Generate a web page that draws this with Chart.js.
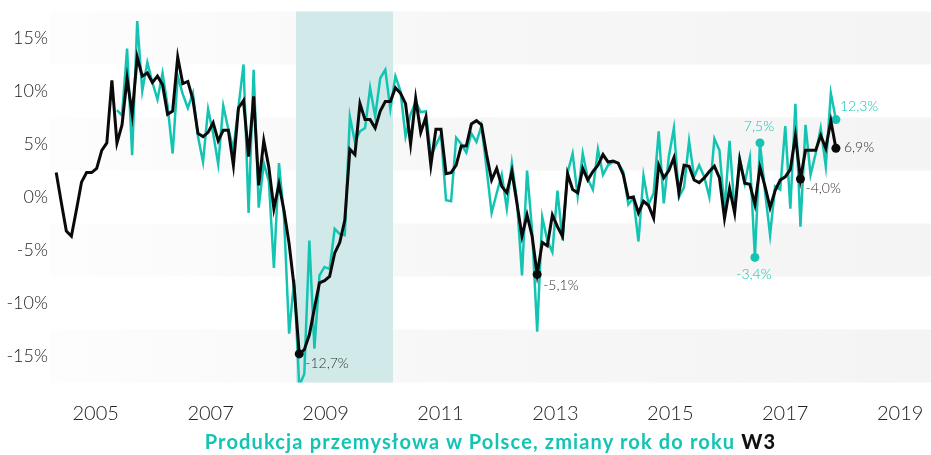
<!DOCTYPE html>
<html>
<head>
<meta charset="utf-8">
<script src="https://cdn.jsdelivr.net/npm/chart.js@4.4.1/dist/chart.umd.min.js"></script>
<style>
  html, body { margin: 0; padding: 0; background: #ffffff; }
  #wrap { position: relative; width: 931px; height: 455px; overflow: hidden; }
  #title { position: absolute; left: 50px; width: 881px; top: 429px; text-align: center;
           font-family: Lato, "Open Sans", sans-serif; font-weight: 700; font-size: 20px;
           letter-spacing: 1.15px; color: #14c4b2; white-space: nowrap; }
  #title span { color: #111111; font-weight: 900; }
</style>
</head>
<body>
<div id="wrap">
  <canvas id="c" width="931" height="455"></canvas>
  <div id="title">Produkcja przemysłowa w Polsce, zmiany rok do roku <span>W3</span></div>
</div>
<script>
// ---- data (monthly points) ----
const w3 = [
  2.3, -0.5, -3.2, -3.7, -1.2, 1.4, 2.3, 2.3, 2.7, 4.4,
  5.1, 11.0, 5.1, 6.8, 11.2, 7.8, 13.2, 11.4, 11.7, 10.8,
  11.4, 10.6, 7.8, 8.1, 13.2, 10.7, 10.9, 9.2, 6.0, 5.7,
  6.1, 7.0, 5.3, 6.3, 6.3, 3.0, 8.4, 9.1, 3.8, 9.5,
  1.1, 5.3, 2.8, -1.1, 1.2, -1.3, -4.4, -8.5, -14.8, -14.4,
  -13.0, -10.5, -8.1, -7.9, -7.5, -5.3, -4.3, -2.2, 4.5, 4.0,
  8.8, 7.3, 7.3, 6.5, 8.1, 9.0, 9.0, 10.3, 9.8, 8.8,
  5.0, 9.3, 6.1, 7.5, 3.0, 6.4, 6.4, 2.2, 2.3, 3.0,
  4.8, 4.8, 6.9, 7.2, 6.8, 4.0, 1.6, 2.7, 1.0, 0.4,
  2.4, -0.6, -3.7, -1.7, -3.7, -7.3, -4.3, -4.6, -1.7, -2.8,
  -3.7, 2.2, 0.7, 0.4, 2.7, 1.6, 2.4, 3.0, 4.0, 3.3,
  3.4, 3.2, 2.1, -0.1, 0.0, -1.5, -0.4, -0.8, -2.0, 3.0,
  1.8, 2.5, 3.7, 0.4, 3.0, 2.9, 1.6, 1.35, 1.8, 2.4,
  2.9, 1.8, -2.0, 0.8, -1.5, 3.5, 1.3, 1.2, -0.7, 2.8,
  1.0, -1.0, 0.6, 1.6, 1.9, 2.6, 5.75, 1.7, 4.4, 4.4,
  4.4, 5.8, 4.6, 7.2, 4.6
];
const produkcja = [
  null, null, null, null, null, null, null, null, null, null,
  null, null, 8.2, 7.7, 14.0, 3.95, 16.6, 10.0, 12.7, 10.8,
  9.2, 11.7, 8.6, 4.1, 11.4, 9.7, 8.4, 9.8, 5.7, 3.3,
  8.3, 6.0, 3.1, 8.6, 6.4, 4.5, 8.5, 12.5, -1.5, 12.0,
  -1.0, 3.2, 1.5, -6.7, 3.2, -1.9, -12.9, -7.8, -17.8, -16.7,
  -4.1, -14.3, -7.4, -6.6, -6.8, -3.0, -3.5, -3.6, 7.6, 5.2,
  6.2, 6.5, 10.3, 7.6, 11.2, 12.0, 8.3, 11.4, 10.0, 5.7,
  7.8, 9.0, 8.0, 8.1, 3.85, 4.9, 5.9, -0.3, -0.4, 5.6,
  5.0, 4.2, 6.0, 5.2, 6.7, 2.7, -1.5, 0.35, 2.1, -1.1,
  3.2, -0.3, -7.4, 2.5, -3.2, -12.7, -1.9, -4.1, -5.2, 0.6,
  -4.1, 2.3, 4.1, 0.1, 4.1, 1.7, 0.7, 4.5, 2.1, 3.0,
  3.3, 3.2, 2.4, -0.7, -0.1, -4.2, 2.0, -0.7, 0.35, 6.2,
  -0.6, 3.8, 6.5, 0.0, 0.9, 5.3, 1.9, 3.0, 1.9, 0.0,
  5.5, 4.4, -1.2, 5.3, -1.4, 3.65, 1.3, 3.7, -5.7, 5.1,
  0.5, -3.6, 1.0, 0.7, 6.7, -1.1, 8.8, -2.8, 6.8, 2.1,
  4.1, 6.5, 2.9, 9.8, 7.3
];
const yearTicks = [2005, 2007, 2009, 2011, 2013, 2015, 2017, 2019];
const yTicks = [-15, -10, -5, 0, 5, 10, 15];
const recession = [2008.486, 2010.174];          // shaded period (axis units)
const w3Marked = [48, 95, 147, 154];
const prodMarked = [138, 139, 154];
const notes = [
  { set: 0, i: 48,  text: '-12,7%', dx: 6,  dy: 10,  align: 'left' },
  { set: 0, i: 95,  text: '-5,1%',  dx: 6,  dy: 11,  align: 'left' },
  { set: 0, i: 147, text: '-4,0%',  dx: 5,  dy: 10,  align: 'left' },
  { set: 0, i: 154, text: '6,9%',   dx: 8,  dy: -1,  align: 'left' },
  { set: 1, i: 154, text: '12,3%',  dx: 4,  dy: -13, align: 'left' },
  { set: 1, i: 139, text: '7,5%',   dx: -1, dy: -16, align: 'center' },
  { set: 1, i: 138, text: '-3,4%',  dx: -1, dy: 17,  align: 'center' }
];

// axis mapping: first observation and month step expressed in axis (year) units
const X0 = 2004.3126, DX = 0.088113;
const XMIN = 2004.2047, XMAX = 2019.537;

const TEAL = '#14c4b2';
const BLACK = '#0a0a0a';

const toPts = arr => arr.map((v, i) => ({ x: X0 + i * DX, y: v }));

const bgPlugin = {
  id: 'bands',
  beforeDatasetsDraw(chart) {
    const { ctx, chartArea: a, scales: { x, y } } = chart;
    ctx.save();
    const g = ctx.createLinearGradient(a.left, 0, a.right, 0);
    g.addColorStop(0, '#fdfdfd');
    g.addColorStop(0.45, '#f7f7f7');
    g.addColorStop(1, '#f4f4f4');
    ctx.fillStyle = g;
    const bands = [[12.5, 17.5], [2.5, 7.5], [-7.5, -2.5], [-17.5, -12.5]];
    bands.forEach(([lo, hi]) => {
      const t = y.getPixelForValue(hi), b = y.getPixelForValue(lo);
      ctx.fillRect(a.left, t, a.right - a.left, b - t);
    });
    const x1 = x.getPixelForValue(recession[0]), x2 = x.getPixelForValue(recession[1]);
    ctx.fillStyle = '#d2e9ea';
    ctx.fillRect(x1, a.top, x2 - x1, a.bottom - a.top);
    ctx.restore();
  }
};

const notePlugin = {
  id: 'notes',
  afterDatasetsDraw(chart) {
    const ctx = chart.ctx;
    ctx.save();
    ctx.font = '300 14px Lato, "Open Sans", sans-serif';
    ctx.textBaseline = 'middle';
    notes.forEach(n => {
      const el = chart.getDatasetMeta(n.set).data[n.i];
      ctx.fillStyle = n.set === 0 ? '#333333' : TEAL;
      ctx.textAlign = n.align;
      ctx.fillText(n.text, el.x + n.dx, el.y + n.dy);
    });
    ctx.restore();
  }
};

const tickFont = { family: 'Lato, "Open Sans", sans-serif', size: 18, weight: '300' };

new Chart(document.getElementById('c'), {
  type: 'line',
  data: {
    datasets: [
      {
        label: 'W3',
        data: toPts(w3),
        borderColor: BLACK,
        backgroundColor: BLACK,
        borderWidth: 3,
        pointRadius: c => w3Marked.includes(c.dataIndex) ? 4.5 : 0,
        pointBackgroundColor: BLACK,
        pointBorderWidth: 0,
        tension: 0,
        order: 0
      },
      {
        label: 'Produkcja przemysłowa',
        data: toPts(produkcja),
        borderColor: TEAL,
        backgroundColor: TEAL,
        borderWidth: 2.5,
        pointRadius: c => prodMarked.includes(c.dataIndex) ? 4.5 : 0,
        pointBackgroundColor: TEAL,
        pointBorderWidth: 0,
        tension: 0,
        spanGaps: false,
        order: 1
      }
    ]
  },
  options: {
    responsive: false,
    animation: false,
    devicePixelRatio: 1,
    layout: { autoPadding: false, padding: { top: 11.5, bottom: 32.5, left: 0, right: 0 } },
    plugins: { legend: { display: false }, tooltip: { enabled: false }, title: { display: false } },
    scales: {
      x: {
        type: 'linear',
        min: XMIN, max: XMAX,
        grid: { display: false, drawTicks: false },
        border: { display: false },
        afterBuildTicks: s => { s.ticks = yearTicks.map(v => ({ value: v })); },
        afterFit: s => { s.height = 40; s.paddingLeft = 0; s.paddingRight = 0; },
        ticks: {
          autoSkip: false, maxRotation: 0, padding: 19,
          color: '#222222', font: { ...tickFont, size: 20 },
          callback: v => String(v)
        }
      },
      y: {
        min: -17.5, max: 17.5,
        grid: { display: false, drawTicks: false },
        border: { display: false },
        afterBuildTicks: s => { s.ticks = yTicks.map(v => ({ value: v })); },
        afterFit: s => { s.width = 50; s.paddingTop = 0; s.paddingBottom = 0; },
        ticks: {
          padding: 2, color: '#222222', font: tickFont,
          callback: v => v + '%'
        }
      }
    }
  },
  plugins: [bgPlugin, notePlugin]
});
</script>
</body>
</html>
